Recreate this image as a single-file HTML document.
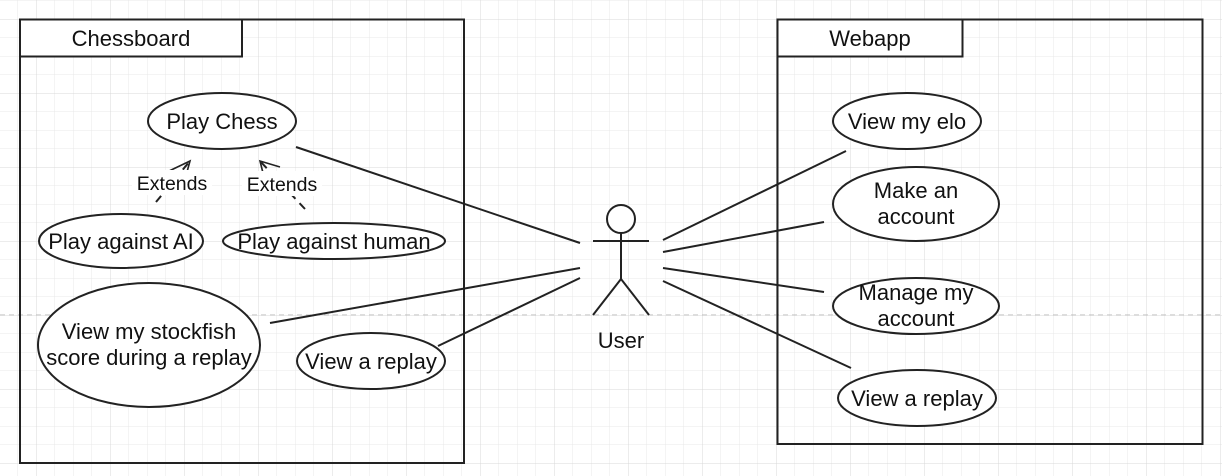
<!DOCTYPE html>
<html><head><meta charset="utf-8"><style>
html,body{margin:0;padding:0;background:#fff;}
svg{display:block;font-family:"Liberation Sans",Arial,sans-serif;}
</style></head><body>
<svg width="1222" height="476" viewBox="0 0 1222 476" xmlns="http://www.w3.org/2000/svg">
<defs>
<pattern id="mi" width="18.5" height="18.5" patternUnits="userSpaceOnUse" x="36" y="19">
<path d="M0 0H18.5M0 0V18.5" fill="none" stroke="#e8e8e8" stroke-width="1"/>
</pattern>
<pattern id="ma" width="74" height="74" patternUnits="userSpaceOnUse" x="36" y="19">
<path d="M0 0H74M0 0V74" fill="none" stroke="#d8d8d8" stroke-width="1"/>
</pattern>
</defs>
<rect width="1222" height="476" fill="#fff"/>
<rect width="1222" height="476" fill="url(#mi)"/>
<rect width="1222" height="476" fill="url(#ma)"/>
<line x1="0" y1="315" x2="1222" y2="315" stroke="#bbb" stroke-dasharray="5,4"/>

<g fill="none" stroke="#222" stroke-width="2">
<rect x="20" y="19.5" width="444" height="443.5"/>
<rect x="20" y="19.5" width="222" height="37" fill="#fff"/>
<rect x="777.5" y="19.5" width="425" height="424.5"/>
<rect x="777.5" y="19.5" width="185" height="37" fill="#fff"/>
</g>
<g font-size="22" fill="#111" text-anchor="middle">
<text x="131" y="46">Chessboard</text>
<text x="870" y="46">Webapp</text>
</g>

<g stroke="#222" stroke-width="2" fill="none">
<line x1="296" y1="147" x2="580" y2="243"/>
<line x1="270" y1="323" x2="580" y2="268"/>
<line x1="438" y1="346" x2="580" y2="278"/>
<line x1="663" y1="240" x2="846" y2="151"/>
<line x1="663" y1="252" x2="824" y2="222"/>
<line x1="663" y1="268" x2="824" y2="292"/>
<line x1="663" y1="281" x2="851" y2="368"/>
<line x1="156" y1="202" x2="190" y2="161" stroke-dasharray="8,6"/>
<polyline points="167,172 190,161 187,172" stroke-width="1.6"/>
<line x1="305" y1="209" x2="260" y2="161" stroke-dasharray="8,6"/>
<polyline points="263,173 260,161 280,167" stroke-width="1.6"/>
</g>
<rect x="132" y="170" width="80" height="25" fill="#fff"/>
<rect x="242" y="171" width="80" height="25" fill="#fff"/>
<g font-size="19.5" fill="#111" text-anchor="middle">
<text x="172" y="190">Extends</text>
<text x="282" y="191">Extends</text>
</g>

<g fill="#fff" stroke="#222" stroke-width="2">
<ellipse cx="222" cy="121" rx="74" ry="28"/>
<ellipse cx="121" cy="241" rx="82" ry="27"/>
<ellipse cx="334" cy="241" rx="111" ry="18"/>
<ellipse cx="149" cy="345" rx="111" ry="62"/>
<ellipse cx="371" cy="361" rx="74" ry="28"/>
<ellipse cx="907" cy="121" rx="74" ry="28"/>
<ellipse cx="916" cy="204" rx="83" ry="37"/>
<ellipse cx="916" cy="306" rx="83" ry="28"/>
<ellipse cx="917" cy="398" rx="79" ry="28"/>
</g>
<g font-size="22" fill="#111" text-anchor="middle">
<text x="222" y="129">Play Chess</text>
<text x="121" y="249">Play against AI</text>
<text x="334" y="249">Play against human</text>
<text x="149" y="339">View my stockfish</text>
<text x="149" y="365">score during a replay</text>
<text x="371" y="369">View a replay</text>
<text x="907" y="129">View my elo</text>
<text x="916" y="198">Make an</text>
<text x="916" y="224">account</text>
<text x="916" y="300">Manage my</text>
<text x="916" y="326">account</text>
<text x="917" y="406">View a replay</text>
<text x="621" y="348">User</text>
</g>

<g stroke="#222" stroke-width="2" fill="#fff">
<circle cx="621" cy="219" r="14"/>
<line x1="621" y1="233" x2="621" y2="279"/>
<line x1="593" y1="241" x2="649" y2="241"/>
<line x1="621" y1="279" x2="593" y2="315"/>
<line x1="621" y1="279" x2="649" y2="315"/>
</g>
</svg>
</body></html>
